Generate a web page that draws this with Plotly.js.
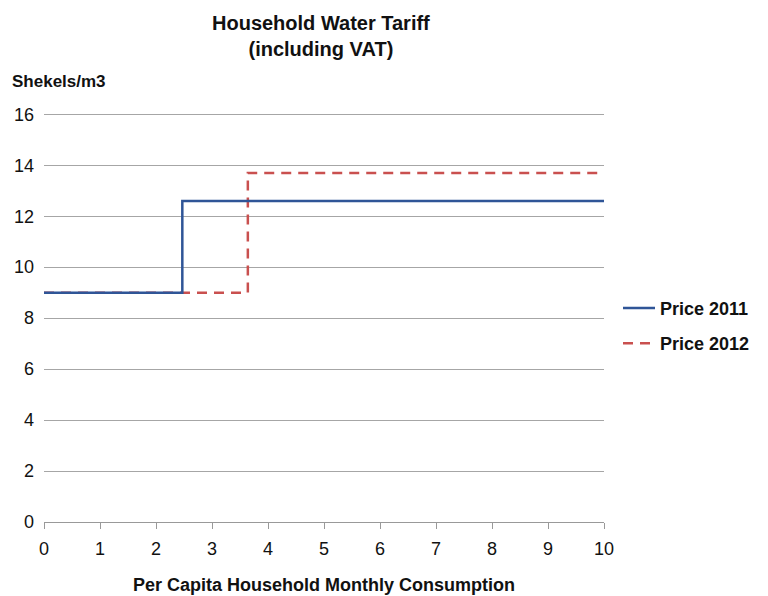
<!DOCTYPE html>
<html>
<head>
<meta charset="utf-8">
<script src="https://cdn.plot.ly/plotly-3.0.1.min.js"></script>
<style>html,body{margin:0;padding:0;background:#fff;}#chart{width:768px;height:596px;}</style>
</head>
<body>
<div id="chart"></div>
<script>
const seriesNames = ["Price 2011", "Price 2012"];
const x2011 = [0, 2.47, 10];
const y2011 = [9.0, 12.6, 12.6];
const x2012 = [0, 2.47, 3.64, 10];
const y2012 = [9.0, 9.0, 13.7, 13.7];
const yTicks = [0, 2, 4, 6, 8, 10, 12, 14, 16];
const xTicks = [0, 1, 2, 3, 4, 5, 6, 7, 8, 9, 10];

const sans = "Liberation Sans, Arial, sans-serif";

// 2012 drawn first so 2011 sits on top where they overlap; legend order kept by legendrank
const traces = [
  {x: x2012, y: y2012, name: seriesNames[1], legendgroup: "b", legendrank: 2, mode: "lines",
   line: {shape: "hv", color: "#C9504F", width: 2.5, dash: "10px,7px"}},
  {x: x2011, y: y2011, name: seriesNames[0], legendgroup: "a", legendrank: 1, mode: "lines",
   line: {shape: "hv", color: "#2F5597", width: 2.5}}
];

const layout = {
  width: 768, height: 596,
  margin: {l: 44, r: 164, t: 113, b: 74},
  paper_bgcolor: "#fff", plot_bgcolor: "#fff",
  xaxis: {range: [0, 10], tickvals: xTicks, ticks: "outside", ticklen: 6, tickcolor: "#999",
          showline: true, linecolor: "#999", linewidth: 1, showgrid: false, zeroline: false,
          ticklabelstandoff: 4,
          tickfont: {family: sans, size: 18, color: "#111"},
          title: {text: "<b>Per Capita Household Monthly Consumption</b>", font: {family: sans, size: 18, color: "#111"}, standoff: 20}},
  yaxis: {range: [0, 16.05], tickvals: yTicks, showgrid: true, gridcolor: "#a6a6a6", gridwidth: 1, zeroline: false,
          showline: false, ticks: "", ticklabelstandoff: 9, tickfont: {family: sans, size: 18, color: "#111"}},
  showlegend: true,
  legend: {x: 1.025, xanchor: "left", y: 0.48, yanchor: "middle", font: {family: sans, size: 18, color: "#111", weight: "bold"},
           itemwidth: 32, tracegroupgap: 9, traceorder: "grouped", bgcolor: "rgba(0,0,0,0)"},
  annotations: [
    {text: "<b>Household Water Tariff<br>(including VAT)</b>", xref: "paper", yref: "paper", x: 0.495, y: 1.188,
     xanchor: "center", yanchor: "middle", showarrow: false, font: {family: sans, size: 20, color: "#111"}},
    {text: "<b>Shekels/m3</b>", xref: "paper", yref: "paper", x: -0.061, y: 1.076, xanchor: "left", yanchor: "middle",
     showarrow: false, font: {family: sans, size: 17, color: "#111"}}
  ]
};

Plotly.newPlot("chart", traces, layout, {displayModeBar: false, staticPlot: true});
</script>
</body>
</html>
